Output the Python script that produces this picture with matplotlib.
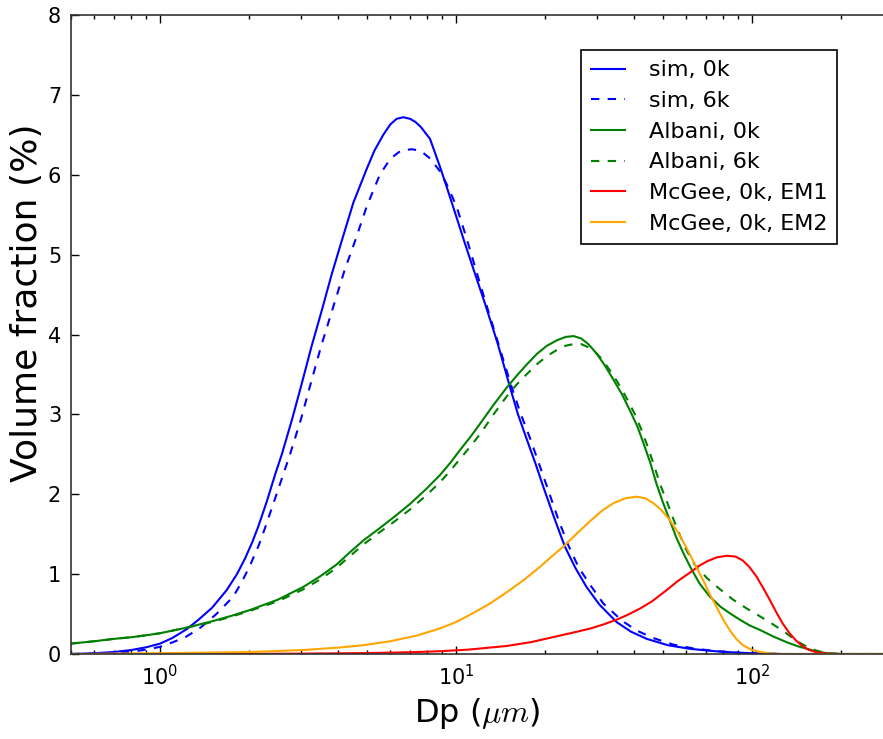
import numpy as np
import matplotlib
matplotlib.use("Agg")
import matplotlib.pyplot as plt

plt.rcParams['mathtext.fontset'] = 'cm'
plt.rcParams['mathtext.default'] = 'it'

# values (Dp in um, volume fraction in %)
sim0_x = [0.5, 0.6, 0.7, 0.8, 0.9, 1.0, 1.1, 1.23, 1.35, 1.5, 1.68, 1.82, 1.94, 2.05, 2.15, 2.3, 2.45,
          2.58, 2.8, 3.01, 3.25, 3.52, 3.8, 4.11, 4.5, 4.99, 5.3, 5.68, 6.0, 6.3, 6.64, 7.0, 7.3, 7.6,
          8.17, 8.83, 9.3, 9.78, 10.7, 11.5, 12.5, 13.8, 15.2, 16.2, 17.3, 18.5, 19.7, 21.5, 23.3,
          25.3, 27.6, 30.5, 34.9, 39, 44.1, 52, 61.8, 75, 91, 110, 130, 300]
sim0_y = [0.0, 0.01, 0.025, 0.05, 0.085, 0.13, 0.2, 0.31, 0.43, 0.58, 0.80, 1.0, 1.2, 1.4, 1.6, 1.92, 2.25,
          2.5, 2.95, 3.38, 3.85, 4.3, 4.75, 5.17, 5.65, 6.07, 6.3, 6.5, 6.63, 6.70, 6.72, 6.70, 6.66, 6.6,
          6.45, 6.1, 5.85, 5.6, 5.15, 4.8, 4.4, 3.9, 3.35, 3.0, 2.7, 2.4, 2.1, 1.7, 1.35,
          1.08, 0.84, 0.62, 0.40, 0.28, 0.19, 0.11, 0.065, 0.035, 0.015, 0.005, 0.0, 0.0]

sim6_x = [0.5, 0.7, 0.8, 0.9, 1.0, 1.11, 1.23, 1.37, 1.55, 1.77, 1.9, 2.01, 2.15, 2.26, 2.45, 2.75, 3.0,
          3.21, 3.5, 3.8, 4.2, 4.56, 4.99, 5.53, 6.0, 6.5, 7.08, 7.6, 8.2, 8.8, 9.31, 10.05, 10.87,
          11.7, 12.6, 14, 15.4, 16.5, 17.8, 19, 20.2, 22, 23.9, 26, 28.6, 31.5, 36.6, 41, 46.4, 54,
          63.3, 76, 91, 110, 130, 300]
sim6_y = [0.0, 0.015, 0.03, 0.055, 0.09, 0.15, 0.22, 0.33, 0.5, 0.72, 0.92, 1.1, 1.35, 1.57, 1.95, 2.5, 2.95,
          3.35, 3.85, 4.28, 4.8, 5.17, 5.6, 6.0, 6.2, 6.3, 6.32, 6.3, 6.2, 6.05, 5.88, 5.6, 5.2,
          4.8, 4.4, 3.85, 3.35, 3.02, 2.7, 2.4, 2.12, 1.72, 1.37, 1.08, 0.85, 0.63, 0.41, 0.29, 0.2, 0.12,
          0.07, 0.035, 0.015, 0.005, 0.0, 0.0]

alb0_x = [0.5, 0.6, 0.7, 0.8, 0.9, 1.0, 1.23, 1.5, 1.75, 2.01, 2.5, 3.05, 3.5, 3.95, 4.4, 4.86, 5.5, 6.2,
          7.0, 7.9, 8.83, 9.6, 10.3, 11.2, 12.1, 13.4, 14.8, 16, 17.3, 18.8, 20.3, 22.0, 23.5, 25, 26.5,
          28, 29.9, 32, 34.1, 36.4, 38.7, 41, 43.0, 45.3, 47.5, 50, 52.7, 55.5, 58.7, 62.5, 66.6, 72,
          78.4, 85, 91, 98, 106.6, 118, 130.6, 142, 153.6, 166, 179.5, 200, 300]
alb0_y = [0.13, 0.16, 0.19, 0.21, 0.235, 0.26, 0.33, 0.41, 0.48, 0.55, 0.68, 0.84, 0.98, 1.12, 1.28, 1.42, 1.57, 1.72,
          1.88, 2.06, 2.24, 2.4, 2.55, 2.72, 2.89, 3.12, 3.33, 3.48, 3.62, 3.76, 3.86, 3.93, 3.97, 3.98, 3.95,
          3.88, 3.76, 3.6, 3.43, 3.25, 3.05, 2.85, 2.64, 2.4, 2.14, 1.9, 1.68, 1.46, 1.26, 1.06, 0.88, 0.72,
          0.59, 0.5, 0.43, 0.36, 0.30, 0.22, 0.15, 0.1, 0.065, 0.03, 0.01, 0.0, 0.0]

alb6_x = [0.5, 0.6, 0.7, 0.8, 0.9, 1.0, 1.23, 1.5, 1.75, 2.01, 2.5, 3.05, 3.5, 3.95, 4.4, 4.86, 5.5, 6.2,
          7.0, 7.9, 8.83, 9.6, 10.3, 11.2, 12.1, 13.4, 14.8, 16, 17.3, 18.8, 20.3, 22, 23.5, 25, 26.5,
          28, 29.5, 31, 33, 35.2, 37.5, 40.0, 42.2, 44.4, 46.7, 49, 51.7, 54.4, 57.2, 60.1, 64, 70.5,
          78, 86.4, 96, 106.6, 118, 130.6, 142, 153.6, 166, 179.5, 200, 300]
alb6_y = [0.13, 0.16, 0.19, 0.21, 0.235, 0.26, 0.33, 0.40, 0.47, 0.54, 0.66, 0.81, 0.94, 1.08, 1.23, 1.37, 1.52, 1.66,
          1.81, 1.98, 2.15, 2.3, 2.44, 2.6, 2.76, 3.0, 3.22, 3.37, 3.5, 3.63, 3.73, 3.81, 3.86, 3.88, 3.88,
          3.84, 3.78, 3.70, 3.56, 3.40, 3.22, 3.02, 2.82, 2.60, 2.36, 2.12, 1.9, 1.68, 1.48, 1.30, 1.12, 0.95,
          0.81, 0.68, 0.57, 0.47, 0.37, 0.26, 0.16, 0.09, 0.04, 0.01, 0.0, 0.0]

em1_x = [0.5, 1.0, 2, 3, 5, 7, 8.83, 11, 14.8, 18, 21.8, 25, 28.5, 31.5, 34.9, 38, 41.9, 46, 51.5, 56,
         61.8, 66, 70.5, 76, 82.2, 88, 93.2, 98, 103.6, 109, 114.8, 121, 127.1, 134, 140.8, 148, 156,
         166, 179.5, 200, 300]
em1_y = [0.0, 0.0, 0.002, 0.005, 0.012, 0.022, 0.035, 0.055, 0.10, 0.15, 0.22, 0.27, 0.32, 0.37, 0.43, 0.49,
         0.57, 0.66, 0.80, 0.91, 1.02, 1.10, 1.16, 1.21, 1.23, 1.22, 1.17, 1.09, 0.97, 0.83, 0.68, 0.52,
         0.38, 0.26, 0.17, 0.1, 0.05, 0.02, 0.005, 0.0, 0.0]

em2_x = [0.5, 1.0, 2.01, 3.05, 4, 4.86, 6, 7.36, 8.83, 10.0, 11.4, 13, 14.8, 17, 19.2, 21.2, 23.3, 25.8,
         28.5, 31.3, 34.1, 37.4, 40.8, 43.6, 46.4, 49.5, 52.7, 56.3, 60.1, 64, 68.5, 72, 75.9, 80,
         84.1, 88.5, 93.2, 100, 106.6, 115, 125, 300]
em2_y = [0.0, 0.01, 0.025, 0.05, 0.08, 0.11, 0.16, 0.23, 0.32, 0.40, 0.51, 0.63, 0.77, 0.93, 1.09, 1.23, 1.36, 1.52,
         1.67, 1.8, 1.89, 1.95, 1.97, 1.95, 1.89, 1.8, 1.68, 1.52, 1.33, 1.13, 0.92, 0.75, 0.59, 0.43,
         0.30, 0.19, 0.11, 0.05, 0.025, 0.008, 0.0, 0.0]

fig = plt.figure(figsize=(8.83, 7.39), dpi=100)
ax = fig.add_axes([0.0803, 0.115, 0.9312, 0.8647])

lw = 1.5
ax.plot(sim0_x, sim0_y, color='b', lw=lw, label='sim, 0k')
ax.plot(sim6_x, sim6_y, color='b', lw=lw, ls=(0, (4, 4)), label='sim, 6k')
ax.plot(alb0_x, alb0_y, color='g', lw=lw, label='Albani, 0k')
ax.plot(alb6_x, alb6_y, color='g', lw=lw, ls=(0, (4, 4)), label='Albani, 6k')
ax.plot(em1_x, em1_y, color='r', lw=lw, label='McGee, 0k, EM1')
ax.plot(em2_x, em2_y, color='orange', lw=lw, label='McGee, 0k, EM2')

ax.set_xscale('log')
ax.set_xlim(0.5, 300)
ax.set_ylim(0, 8)
ax.set_yticks(range(9))

ax.tick_params(which='both', direction='in', top=True, right=True, labelsize=15, pad=7)
ax.tick_params(which='major', length=6, width=1)
ax.tick_params(which='minor', length=3, width=1)
for s in ax.spines.values():
    s.set_linewidth(1.2)
    s.set_color('#333333')

ax.set_xlabel(r'Dp ($\mu m$)', fontsize=23)
ax.set_ylabel('Volume fraction (%)', fontsize=26)
ax.yaxis.set_label_coords(-0.033, 0.55)
ax.xaxis.set_label_coords(0.494, -0.065)

leg = ax.legend(loc='upper right', bbox_to_anchor=(0.932, 0.945), fontsize=16, fancybox=False,
                framealpha=1, edgecolor='black', handlelength=1.5, handletextpad=1.08,
                labelspacing=0.48, borderpad=0.46, borderaxespad=0)
leg.get_frame().set_linewidth(1.2)

fig.savefig('out.png', dpi=100)
